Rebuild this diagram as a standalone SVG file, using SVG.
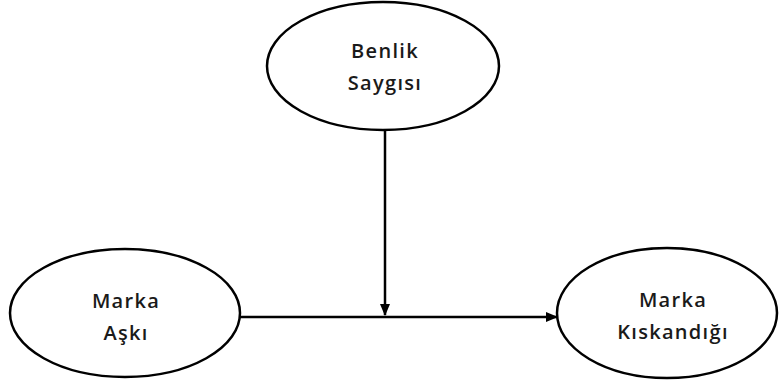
<svg xmlns="http://www.w3.org/2000/svg" width="779" height="389" viewBox="0 0 779 389">
<style>
.node ellipse{fill:#fff;stroke:#000;stroke-width:2.5}
.node text{font-family:"Open Sans","Liberation Sans",sans-serif;font-weight:600;font-size:20px;fill:#1a1a1a;text-anchor:middle;letter-spacing:1.3px}
.conn line{stroke:#000;stroke-width:2.5}
</style>
<defs>
<marker id="arr" markerWidth="12" markerHeight="10" refX="11" refY="5" orient="auto" markerUnits="userSpaceOnUse" viewBox="0 0 12 10">
<path d="M0,0 L12,5 L0,10 Z" fill="#000"/>
</marker>
</defs>
<rect width="779" height="389" fill="#fff"/>
<g id="connectors" class="conn">
<line x1="240" y1="317" x2="557" y2="317" marker-end="url(#arr)"/>
<line x1="385" y1="131" x2="385" y2="315" marker-end="url(#arr)"/>
</g>
<g id="benlik" class="node">
<ellipse cx="383" cy="66" rx="116" ry="64"/>
<text x="385" y="58">Benlik</text>
<text x="385" y="90">Saygısı</text>
</g>
<g id="ask" class="node">
<ellipse cx="125" cy="313" rx="115" ry="64"/>
<text x="126" y="308">Marka</text>
<text x="126" y="340">Aşkı</text>
</g>
<g id="kiskanclik" class="node">
<ellipse cx="667" cy="313" rx="110" ry="65"/>
<text x="673" y="307">Marka</text>
<text x="673" y="339">Kıskandığı</text>
</g>
</svg>
